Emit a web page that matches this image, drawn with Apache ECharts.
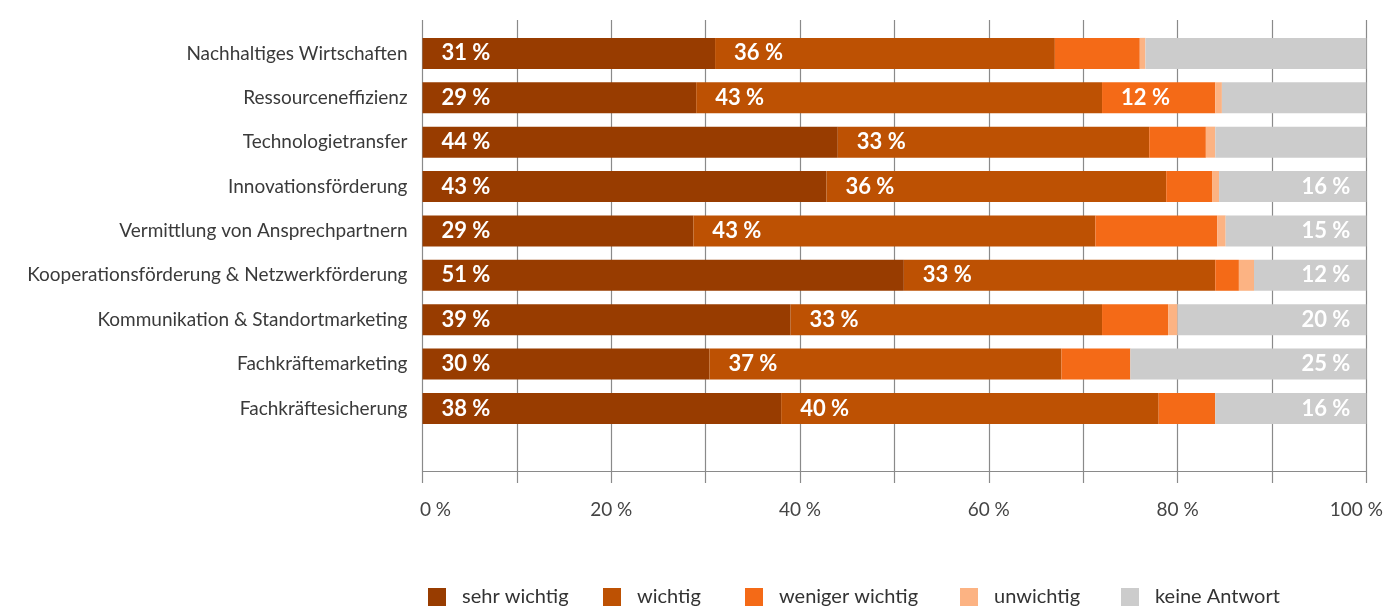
<!DOCTYPE html>
<html>
<head>
<meta charset="utf-8">
<script src="https://cdn.jsdelivr.net/npm/echarts@6/dist/echarts.min.js"></script>
<style>
  html, body { margin: 0; padding: 0; background: #fff; }
  #chart { width: 1389px; height: 607px; }
</style>
</head>
<body>
<div id="chart"></div>
<script>
// Bedeutung der Handlungsfelder, Anteile in Prozent
const categories = [
  'Nachhaltiges Wirtschaften',
  'Ressourceneffizienz',
  'Technologietransfer',
  'Innovationsförderung',
  'Vermittlung von Ansprechpartnern',
  'Kooperationsförderung & Netzwerkförderung',
  'Kommunikation & Standortmarketing',
  'Fachkräftemarketing',
  'Fachkräftesicherung'
];

const sehrWichtig    = [31.0, 29.0, 44.0, 42.8, 28.7, 51.0, 39.0, 30.4, 38.0];
const wichtig        = [36.0, 43.0, 33.0, 36.0, 42.6, 33.0, 33.0, 37.3, 40.0];
const wenigerWichtig = [ 9.0, 12.0,  6.0,  4.9, 12.9,  2.5,  7.0,  7.3,  6.0];
const unwichtig      = [ 0.6,  0.7,  1.0,  0.7,  0.9,  1.6,  1.0,  0.0,  0.0];
const keineAntwort   = [23.4, 15.3, 16.0, 15.6, 14.9, 11.9, 20.0, 25.0, 16.0];

// which segments carry a value label
const labelSehr    = [1, 1, 1, 1, 1, 1, 1, 1, 1];
const labelWichtig = [1, 1, 1, 1, 1, 1, 1, 1, 1];
const labelWeniger = [0, 1, 0, 0, 0, 0, 0, 0, 0];
const labelUnwicht = [0, 0, 0, 0, 0, 0, 0, 0, 0];
const labelKeine   = [0, 0, 0, 1, 1, 1, 1, 1, 1];

const seriesNames = ['sehr wichtig', 'wichtig', 'weniger wichtig', 'unwichtig', 'keine Antwort'];
const seriesColors = ['#983c00', '#bd5103', '#f46a17', '#fcb383', '#cccccc'];

const xTicks = [0, 20, 40, 60, 80, 100];

// left edge of each legend entry
const legendLeft = [428, 603, 745, 960, 1121];

const FONT = 'Lato';

function items(values, flags) {
  return values.map((v, i) => ({ value: v, label: { show: !!flags[i] } }));
}

function barSeries(idx, values, flags, pos, dist) {
  return {
    name: seriesNames[idx],
    type: 'bar',
    stack: 'total',
    xAxisIndex: 1,
    yAxisIndex: 1,
    barWidth: 31,
    itemStyle: { color: seriesColors[idx] },
    label: {
      position: pos,
      distance: dist,
      color: '#ffffff',
      fontFamily: FONT,
      fontWeight: 'bold',
      fontSize: 22,
      formatter: p => Math.round(p.value) + ' %'
    },
    emphasis: { disabled: true },
    data: items(values, flags)
  };
}

const chart = echarts.init(document.getElementById('chart'), null, { renderer: 'canvas' });

chart.setOption({
  animation: false,
  backgroundColor: '#ffffff',
  textStyle: { fontFamily: FONT },
  grid: [
    // frame with the percentage axis and vertical guide lines
    { left: 422.5, right: 22.7, top: 20, height: 451 },
    // the bars themselves
    { left: 422.5, right: 22.7, top: 31.2, height: 399.4 }
  ],
  legend: seriesNames.map((name, i) => ({
    data: [name],
    left: legendLeft[i],
    top: 587,
    padding: 0,
    itemWidth: 18,
    itemHeight: 18,
    icon: 'rect',
    textStyle: { fontFamily: FONT, fontSize: 20, color: '#333333', padding: [0, 0, 0, 11] },
    selectedMode: false
  })),
  xAxis: [
    {
      gridIndex: 0,
      type: 'value',
      min: 0,
      max: 100,
      interval: 10,
      axisLine: { show: true, lineStyle: { color: '#8a8a8a', width: 1.2 } },
      axisTick: { show: true, inside: false, length: 12, lineStyle: { color: '#8a8a8a', width: 1.2 } },
      splitLine: { show: true, lineStyle: { color: '#8a8a8a', width: 1.2 } },
      axisLabel: {
        margin: 29,
        color: '#444444',
        fontFamily: FONT,
        fontSize: 19,
        formatter: v => {
          if (xTicks.indexOf(v) < 0) return '';
          if (v === 0) return '{first|' + v + ' %}';
          if (v === 100) return '{last|' + v + ' %}';
          return v + ' %';
        },
        rich: {
          first: { fontFamily: FONT, fontSize: 19, color: '#444444', padding: [0, 0, 0, 26] },
          last: { fontFamily: FONT, fontSize: 19, color: '#444444', padding: [0, 20, 0, 0] }
        }
      }
    },
    {
      gridIndex: 1,
      type: 'value',
      min: 0,
      max: 100,
      show: false
    }
  ],
  yAxis: [
    {
      gridIndex: 0,
      type: 'value',
      show: false
    },
    {
      gridIndex: 1,
      type: 'category',
      inverse: true,
      data: categories,
      axisLine: { show: false },
      axisTick: { show: false },
      splitLine: { show: false },
      axisLabel: {
        margin: 15,
        color: '#3a3a3a',
        fontFamily: FONT,
        fontSize: 19
      }
    }
  ],
  series: [
    barSeries(0, sehrWichtig, labelSehr, 'insideLeft', 19),
    barSeries(1, wichtig, labelWichtig, 'insideLeft', 19),
    barSeries(2, wenigerWichtig, labelWeniger, 'insideLeft', 19),
    barSeries(3, unwichtig, labelUnwicht, 'insideLeft', 19),
    barSeries(4, keineAntwort, labelKeine, 'insideRight', 16)
  ]
});
</script>
</body>
</html>
